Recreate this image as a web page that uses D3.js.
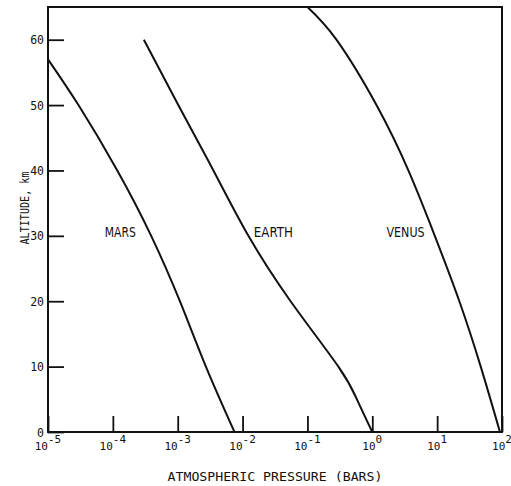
<!DOCTYPE html>
<html>
<head>
<meta charset="utf-8">
<script src="https://cdn.jsdelivr.net/npm/d3@7"></script>
<style>
  body { margin: 0; background: #fff; }
  text { fill: #111; font-family: "DejaVu Sans Mono", monospace; }
</style>
</head>
<body>
<div id="chart"></div>
<script>
const width = 511;
const height = 486;

// altitude (km) vs pressure (bars)
const marsAlt = [57, 50, 40, 30, 20, 10, 0];
const marsP = [1.0e-5, 2.95e-5, 1.17e-4, 3.9e-4, 1.08e-3, 2.72e-3, 7.5e-3];

const earthAlt = [60, 50, 40, 30, 20, 10, 5, 0];
const earthP = [3.0e-4, 1.02e-3, 3.55e-3, 1.23e-2, 5.5e-2, 0.30, 0.58, 1.0];

const venusAlt = [65, 60, 50, 40, 30, 20, 10, 0];
const venusP = [0.1, 0.28, 1.16, 3.6, 9.2, 22, 47, 93];

const planetNames = ["MARS", "EARTH", "VENUS"];
const labelP = [7.5e-5, 0.0149, 1.66];
const labelAlt = [30, 30, 30];
const labelLen = [31, 39, 38];

const xTicks = [1e-5, 1e-4, 1e-3, 1e-2, 1e-1, 1e0, 1e1, 1e2];
const yTicks = [0, 10, 20, 30, 40, 50, 60];

const svg = d3.select("#chart").append("svg")
  .attr("width", width)
  .attr("height", height);

const x = d3.scaleLog().domain([1e-5, 1e2]).range([48, 502]);
const y = d3.scaleLinear().domain([0, 65]).range([432, 7]);

// frame
svg.append("rect")
  .attr("x", x.range()[0]).attr("y", y.range()[1])
  .attr("width", x.range()[1] - x.range()[0])
  .attr("height", y.range()[0] - y.range()[1])
  .attr("fill", "none").attr("stroke", "#111").attr("stroke-width", 2);

// y axis, ticks point inward
const yAxis = svg.append("g")
  .attr("transform", `translate(${x.range()[0]},0)`)
  .call(d3.axisRight(y).tickValues(yTicks).tickSize(16).tickFormat(d3.format("d")));
yAxis.select(".domain").remove();
yAxis.selectAll(".tick line").attr("stroke", "#111").attr("stroke-width", 1.8);
yAxis.selectAll(".tick text")
  .attr("x", -4).attr("dy", "0.36em")
  .attr("text-anchor", "end")
  .style("font-size", "11.5px")
  .style("font-family", "DejaVu Sans Mono");

// x axis, ticks point inward, labels 10^n
const xAxis = svg.append("g")
  .attr("transform", `translate(0,${y.range()[0]})`)
  .call(d3.axisTop(x).tickValues(xTicks).tickSize(16).tickFormat(""));
xAxis.select(".domain").remove();
xAxis.selectAll(".tick line").attr("stroke", "#111").attr("stroke-width", 1.8);

const xLab = svg.append("g").selectAll("text")
  .data(xTicks)
  .join("text")
  .attr("x", d => x(d))
  .attr("y", 450)
  .attr("text-anchor", "middle")
  .style("font-size", "11px");
xLab.append("tspan").text("10");
xLab.append("tspan")
  .attr("dy", -7)
  .text(d => String(Math.round(Math.log10(d))));

// axis titles
svg.append("text")
  .attr("x", d3.mean(x.range()))
  .attr("y", 481)
  .attr("text-anchor", "middle")
  .style("font-size", "13px")
  .attr("textLength", 215)
  .attr("lengthAdjust", "spacingAndGlyphs")
  .text("ATMOSPHERIC PRESSURE (BARS)");

svg.append("text")
  .attr("transform", "translate(29,208) rotate(-90)")
  .attr("text-anchor", "middle")
  .style("font-size", "12px")
  .attr("textLength", 73)
  .attr("lengthAdjust", "spacingAndGlyphs")
  .text("ALTITUDE, km");

// curves
const line = d3.line()
  .x(d => x(d[1]))
  .y(d => y(d[0]))
  .curve(d3.curveNatural);

const series = [
  d3.zip(marsAlt, marsP),
  d3.zip(earthAlt, earthP),
  d3.zip(venusAlt, venusP)
];

svg.append("g").selectAll("path")
  .data(series)
  .join("path")
  .attr("d", line)
  .attr("fill", "none")
  .attr("stroke", "#111")
  .attr("stroke-width", 2);

// planet labels
svg.append("g").selectAll("text")
  .data(planetNames)
  .join("text")
  .attr("x", (d, i) => x(labelP[i]))
  .attr("y", (d, i) => y(labelAlt[i]) + 1)
  .attr("textLength", (d, i) => labelLen[i])
  .attr("lengthAdjust", "spacingAndGlyphs")
  .style("font-size", "14px")
  .style("font-family", "DejaVu Sans Condensed, DejaVu Sans")
  .text(d => d);
</script>
</body>
</html>
